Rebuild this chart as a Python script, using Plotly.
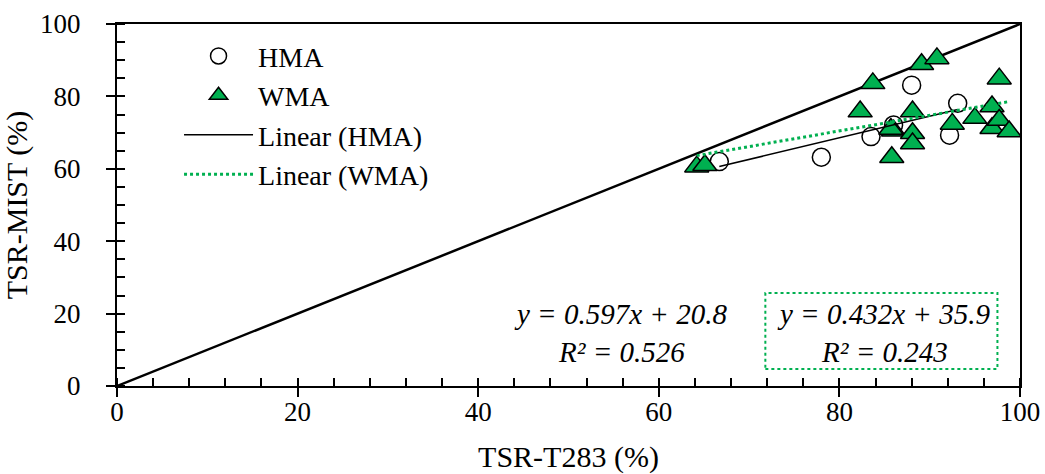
import plotly.graph_objects as go

# HMA data
hma_x = [66.7, 78.0, 83.5, 86.0, 88.0, 92.2, 93.1]
hma_y = [62.0, 63.2, 68.9, 72.1, 83.1, 69.3, 78.1]

# WMA data
wma_x = [64.2, 65.1, 82.3, 83.7, 86.0, 85.7, 85.8, 88.1, 88.1, 88.1,
         89.1, 90.8, 92.5, 95.0, 96.9, 96.9, 97.7, 97.7, 98.8]
wma_y = [60.6, 61.0, 75.8, 83.6, 70.5, 71.0, 63.2, 75.8, 69.8, 67.0,
         88.9, 90.5, 72.4, 74.0, 77.2, 71.2, 84.9, 73.5, 70.3]

# regression coefficients (slope, intercept, R2)
hma_fit = [0.597, 20.8, 0.526]
wma_fit = [0.432, 35.9, 0.243]

# 1:1 line
diag = [0, 100]

GREEN = "#00B050"
FONT = "Liberation Serif"

def fit_line(xs, fit):
    x0, x1 = min(xs), max(xs)
    return [x0, x1], [fit[0] * x0 + fit[1], fit[0] * x1 + fit[1]]

fig = go.Figure()

fig.add_trace(go.Scatter(x=diag, y=diag, mode="lines",
                         line=dict(color="black", width=2.5),
                         showlegend=False, hoverinfo="skip"))

fig.add_trace(go.Scatter(x=hma_x, y=hma_y, mode="markers", name="HMA",
                         marker=dict(symbol="circle", size=18, color="white",
                                     line=dict(color="black", width=1.5))))

fig.add_trace(go.Scatter(x=wma_x, y=wma_y, mode="markers", name="WMA",
                         marker=dict(symbol="triangle-up", size=21, color=GREEN,
                                     line=dict(color="black", width=1.5))))

hx, hy = fit_line(hma_x, hma_fit)
fig.add_trace(go.Scatter(x=hx, y=hy, mode="lines", name="Linear (HMA)",
                         line=dict(color="black", width=1.5)))

wx, wy = fit_line(wma_x, wma_fit)
fig.add_trace(go.Scatter(x=wx, y=wy, mode="lines", name="Linear (WMA)",
                         line=dict(color=GREEN, width=3, dash="dot")))

eq_font = dict(family=FONT, size=29, color="black")
fig.add_annotation(x=55.8, y=14.6, xref="x", yref="y", showarrow=False,
                   text=f"<i>y = {hma_fit[0]}x + {hma_fit[1]}<br>R² = {hma_fit[2]}</i>",
                   font=eq_font, align="center")
fig.add_annotation(x=84.9, y=14.6, xref="x", yref="y", showarrow=False,
                   text=f"<i>y = {wma_fit[0]}x + {wma_fit[1]}<br>R² = {wma_fit[2]}</i>",
                   font=eq_font, align="center")
fig.add_shape(type="rect", xref="x", yref="y", x0=71.8, x1=97.5, y0=4.7, y1=25.7,
              line=dict(color=GREEN, width=2, dash="dot"))

axis_common = dict(
    showgrid=False, zeroline=False, showline=True, linecolor="black", linewidth=2,
    mirror=True, ticks="outside", ticklen=9, tickwidth=1.5, tickcolor="black",
    tickfont=dict(family=FONT, size=27, color="black"), automargin=False,
)

fig.update_xaxes(range=[0, 100], dtick=20, tick0=0, ticklabelstandoff=-8,
                 title=dict(text="TSR-T283 (%)", font=dict(family=FONT, size=30, color="black"), standoff=22),
                 minor=dict(ticks="inside", dtick=4, ticklen=8, tickwidth=1.5, tickcolor="black"),
                 **axis_common)
fig.update_yaxes(range=[0, 100], dtick=20, tick0=0, ticklabelstandoff=20,
                 title=dict(text="TSR-MIST (%)", font=dict(family=FONT, size=30, color="black"), standoff=12),
                 minor=dict(ticks="inside", dtick=5, ticklen=8, tickwidth=1.5, tickcolor="black"),
                 **axis_common)

fig.update_layout(
    width=1045, height=474,
    margin=dict(l=117, r=25, t=24, b=88),
    plot_bgcolor="white", paper_bgcolor="white",
    font=dict(family=FONT, color="black"),
    legend=dict(x=0.0687, y=0.98, xanchor="left", yanchor="top",
                font=dict(family=FONT, size=28, color="black"),
                bgcolor="rgba(0,0,0,0)", itemwidth=69, tracegroupgap=0),
)

fig.write_html("out.html")
